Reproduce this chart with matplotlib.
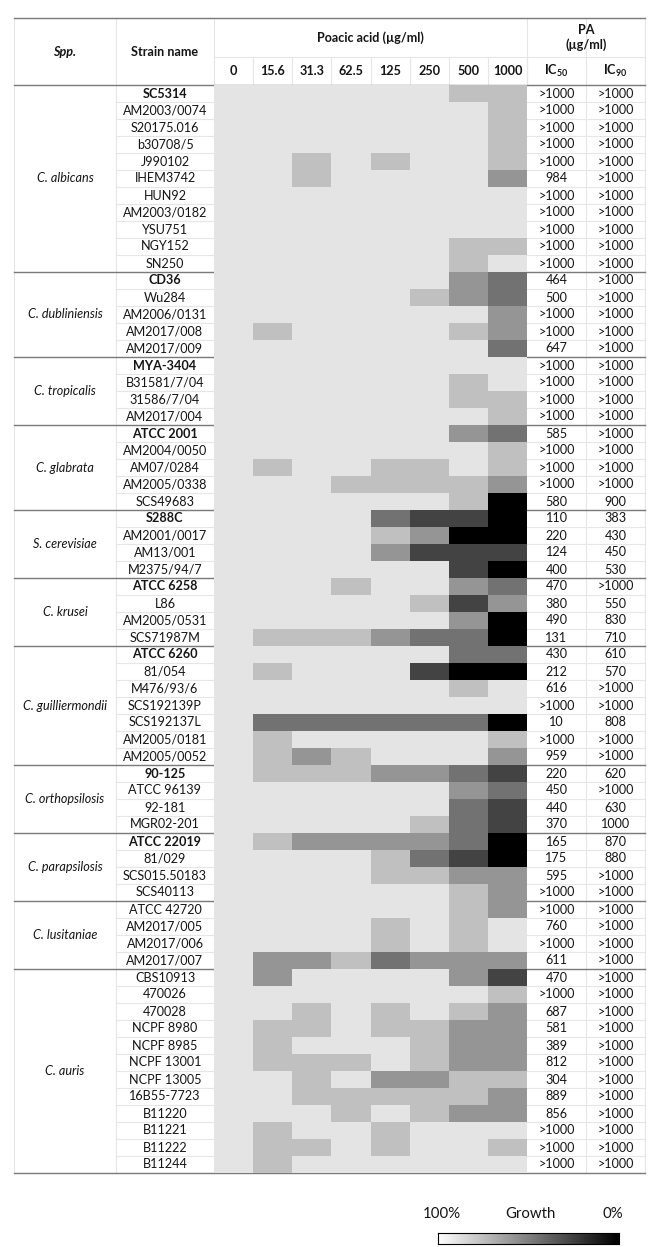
import matplotlib
matplotlib.use("Agg")
import matplotlib.pyplot as plt
from matplotlib.colors import ListedColormap, LinearSegmentedColormap
import numpy as np

plt.rcParams['font.family'] = ['Lato', 'DejaVu Sans']
plt.rcParams['mathtext.fontset'] = 'custom'
plt.rcParams['mathtext.rm'] = 'Lato'
plt.rcParams['mathtext.bf'] = 'Lato:bold'
plt.rcParams['mathtext.it'] = 'Lato:italic'

# ---------------- data ----------------
concentrations = ["0", "15.6", "31.3", "62.5", "125", "250", "500", "1000"]

species = ["C. albicans", "C. dubliniensis", "C. tropicalis", "C. glabrata",
           "S. cerevisiae", "C. krusei", "C. guilliermondii", "C. orthopsilosis",
           "C. parapsilosis", "C. lusitaniae", "C. auris"]
group_sizes = [11, 5, 4, 5, 4, 4, 7, 4, 4, 4, 12]

strains = ["SC5314", "AM2003/0074", "S20175.016", "b30708/5", "J990102", "IHEM3742",
           "HUN92", "AM2003/0182", "YSU751", "NGY152", "SN250",
           "CD36", "Wu284", "AM2006/0131", "AM2017/008", "AM2017/009",
           "MYA-3404", "B31581/7/04", "31586/7/04", "AM2017/004",
           "ATCC 2001", "AM2004/0050", "AM07/0284", "AM2005/0338", "SCS49683",
           "S288C", "AM2001/0017", "AM13/001", "M2375/94/7",
           "ATCC 6258", "L86", "AM2005/0531", "SCS71987M",
           "ATCC 6260", "81/054", "M476/93/6", "SCS192139P", "SCS192137L",
           "AM2005/0181", "AM2005/0052",
           "90-125", "ATCC 96139", "92-181", "MGR02-201",
           "ATCC 22019", "81/029", "SCS015.50183", "SCS40113",
           "ATCC 42720", "AM2017/005", "AM2017/006", "AM2017/007",
           "CBS10913", "470026", "470028", "NCPF 8980", "NCPF 8985", "NCPF 13001",
           "NCPF 13005", "16B55-7723", "B11220", "B11221", "B11222", "B11244"]

bold_strains = ["SC5314", "CD36", "MYA-3404", "ATCC 2001", "S288C", "ATCC 6258",
                "ATCC 6260", "90-125", "ATCC 22019"]

# growth inhibition level per cell (0 = full growth ... 5 = no growth)
levels = [
    [0, 0, 0, 0, 0, 0, 1, 1],
    [0, 0, 0, 0, 0, 0, 0, 1],
    [0, 0, 0, 0, 0, 0, 0, 1],
    [0, 0, 0, 0, 0, 0, 0, 1],
    [0, 0, 1, 0, 1, 0, 0, 1],
    [0, 0, 1, 0, 0, 0, 0, 2],
    [0, 0, 0, 0, 0, 0, 0, 0],
    [0, 0, 0, 0, 0, 0, 0, 0],
    [0, 0, 0, 0, 0, 0, 0, 0],
    [0, 0, 0, 0, 0, 0, 1, 1],
    [0, 0, 0, 0, 0, 0, 1, 0],
    [0, 0, 0, 0, 0, 0, 2, 3],
    [0, 0, 0, 0, 0, 1, 2, 3],
    [0, 0, 0, 0, 0, 0, 0, 2],
    [0, 1, 0, 0, 0, 0, 1, 2],
    [0, 0, 0, 0, 0, 0, 0, 3],
    [0, 0, 0, 0, 0, 0, 0, 0],
    [0, 0, 0, 0, 0, 0, 1, 0],
    [0, 0, 0, 0, 0, 0, 1, 1],
    [0, 0, 0, 0, 0, 0, 0, 1],
    [0, 0, 0, 0, 0, 0, 2, 3],
    [0, 0, 0, 0, 0, 0, 0, 1],
    [0, 1, 0, 0, 1, 1, 0, 1],
    [0, 0, 0, 1, 1, 1, 1, 2],
    [0, 0, 0, 0, 0, 0, 1, 5],
    [0, 0, 0, 0, 3, 4, 4, 5],
    [0, 0, 0, 0, 1, 2, 5, 5],
    [0, 0, 0, 0, 2, 4, 4, 4],
    [0, 0, 0, 0, 0, 0, 4, 5],
    [0, 0, 0, 1, 0, 0, 2, 3],
    [0, 0, 0, 0, 0, 1, 4, 2],
    [0, 0, 0, 0, 0, 0, 2, 5],
    [0, 1, 1, 1, 2, 3, 3, 5],
    [0, 0, 0, 0, 0, 0, 3, 3],
    [0, 1, 0, 0, 0, 4, 5, 5],
    [0, 0, 0, 0, 0, 0, 1, 0],
    [0, 0, 0, 0, 0, 0, 0, 0],
    [0, 3, 3, 3, 3, 3, 3, 5],
    [0, 1, 0, 0, 0, 0, 0, 1],
    [0, 1, 2, 1, 0, 0, 0, 2],
    [0, 1, 1, 1, 2, 2, 3, 4],
    [0, 0, 0, 0, 0, 0, 2, 3],
    [0, 0, 0, 0, 0, 0, 3, 4],
    [0, 0, 0, 0, 0, 1, 3, 4],
    [0, 1, 2, 2, 2, 2, 3, 5],
    [0, 0, 0, 0, 1, 3, 4, 5],
    [0, 0, 0, 0, 1, 1, 2, 2],
    [0, 0, 0, 0, 0, 0, 1, 2],
    [0, 0, 0, 0, 0, 0, 1, 2],
    [0, 0, 0, 0, 1, 0, 1, 0],
    [0, 0, 0, 0, 1, 0, 1, 0],
    [0, 2, 2, 1, 3, 2, 2, 2],
    [0, 2, 0, 0, 0, 0, 2, 4],
    [0, 0, 0, 0, 0, 0, 0, 1],
    [0, 0, 1, 0, 1, 0, 1, 2],
    [0, 1, 1, 0, 1, 1, 2, 2],
    [0, 1, 0, 0, 0, 1, 2, 2],
    [0, 1, 1, 1, 0, 1, 2, 2],
    [0, 0, 1, 0, 2, 2, 1, 1],
    [0, 0, 1, 1, 1, 1, 1, 2],
    [0, 0, 0, 1, 0, 1, 2, 2],
    [0, 1, 0, 0, 1, 0, 0, 0],
    [0, 1, 1, 0, 1, 0, 0, 1],
    [0, 1, 0, 0, 0, 0, 0, 0],
]

ic50 = [">1000", ">1000", ">1000", ">1000", ">1000", "984", ">1000", ">1000", ">1000", ">1000", ">1000",
        "464", "500", ">1000", ">1000", "647",
        ">1000", ">1000", ">1000", ">1000",
        "585", ">1000", ">1000", ">1000", "580",
        "110", "220", "124", "400",
        "470", "380", "490", "131",
        "430", "212", "616", ">1000", "10", ">1000", "959",
        "220", "450", "440", "370",
        "165", "175", "595", ">1000",
        ">1000", "760", ">1000", "611",
        "470", ">1000", "687", "581", "389", "812", "304", "889", "856", ">1000", ">1000", ">1000"]

ic90 = [">1000"] * 11 + \
       [">1000"] * 5 + \
       [">1000"] * 4 + \
       [">1000", ">1000", ">1000", ">1000", "900"] + \
       ["383", "430", "450", "530"] + \
       [">1000", "550", "830", "710"] + \
       ["610", "570", ">1000", ">1000", "808", ">1000", ">1000"] + \
       ["620", ">1000", "630", "1000"] + \
       ["870", "880", ">1000", ">1000"] + \
       [">1000"] * 4 + \
       [">1000"] * 12

level_colors = ["#e4e4e4", "#c0c0c0", "#959595", "#727272", "#434343", "#000000"]

# ---------------- layout (pixels) ----------------
W, H = 668, 1247
x_left, x_spp, x_heat0, x_heat1, x_ic, x_right = 14, 116, 214, 527, 586, 645
y_top, y_sub, y_head, y_bot = 18, 57, 85, 1173
n_rows = len(strains)
rh = (y_bot - y_head) / n_rows
ncol = len(concentrations)
cw = (x_heat1 - x_heat0) / ncol

fig = plt.figure(figsize=(W / 100, H / 100), dpi=100)
bg = fig.add_axes([0, 0, 1, 1])
bg.set_xlim(0, W)
bg.set_ylim(H, 0)
bg.axis("off")

# heatmap axes
hax = fig.add_axes([x_heat0 / W, 1 - y_bot / H, (x_heat1 - x_heat0) / W, (y_bot - y_head) / H])
cmap = ListedColormap(level_colors)
hax.pcolormesh(np.array(levels), cmap=cmap, vmin=-0.5, vmax=5.5)
hax.set_xlim(0, ncol)
hax.set_ylim(n_rows, 0)
hax.axis("off")

light = "#e6e6e6"
dark = "#7a7a7a"
fs = 9.1
tc = "#151515"

# light row lines in strain & IC columns
for i in range(1, n_rows):
    y = y_head + i * rh
    bg.plot([x_spp, x_heat0], [y, y], color=light, lw=0.8)
    bg.plot([x_heat1, x_right], [y, y], color=light, lw=0.8)

# light vertical lines
for x in [x_left, x_spp, x_heat0, x_ic, x_right]:
    bg.plot([x, x], [y_top, y_bot], color=light, lw=0.8, zorder=0)
for j in range(1, ncol + 1):
    x = x_heat0 + j * cw
    bg.plot([x, x], [y_sub, y_head], color=light, lw=0.8)
bg.plot([x_heat1, x_heat1], [y_top, y_head], color=light, lw=0.8)
bg.plot([x_heat0, x_right], [y_sub, y_sub], color=light, lw=0.8)

# header text
bg.text((x_left + x_spp) / 2, (y_top + y_head) / 2, "Spp.", ha="center", va="center",
        fontsize=fs, fontweight="bold", fontstyle="italic", color=tc)
bg.text((x_spp + x_heat0) / 2, (y_top + y_head) / 2, "Strain name", ha="center", va="center",
        fontsize=fs, fontweight="bold", color=tc)
bg.text((x_heat0 + x_heat1) / 2, (y_top + y_sub) / 2, "Poacic acid (µg/ml)", ha="center",
        va="center", fontsize=fs, fontweight="bold", color=tc)
bg.text((x_heat1 + x_right) / 2, 30, "PA", ha="center", va="center", fontsize=fs,
        fontweight="bold", color=tc)
bg.text((x_heat1 + x_right) / 2, 45, "(µg/ml)", ha="center", va="center", fontsize=fs,
        fontweight="bold", color=tc)
for j, c in enumerate(concentrations):
    bg.text(x_heat0 + (j + 0.5) * cw, (y_sub + y_head) / 2, c, ha="center", va="center",
            fontsize=fs, fontweight="bold", color=tc)
bg.text((x_heat1 + x_ic) / 2, (y_sub + y_head) / 2, r"$\mathbf{IC}_{\mathbf{50}}$", ha="center",
        va="center", fontsize=fs, color=tc)
bg.text((x_ic + x_right) / 2, (y_sub + y_head) / 2, r"$\mathbf{IC}_{\mathbf{90}}$", ha="center",
        va="center", fontsize=fs, color=tc)

# rows
for i, s in enumerate(strains):
    yc = y_head + (i + 0.5) * rh
    bg.text((x_spp + x_heat0) / 2, yc, s, ha="center", va="center", fontsize=fs,
            fontweight="bold" if s in bold_strains else "normal", color=tc)
    bg.text((x_heat1 + x_ic) / 2, yc, ic50[i], ha="center", va="center", fontsize=fs, color=tc)
    bg.text((x_ic + x_right) / 2, yc, ic90[i], ha="center", va="center", fontsize=fs, color=tc)

# groups
start = 0
for sp, n in zip(species, group_sizes):
    y0 = y_head + start * rh
    y1 = y_head + (start + n) * rh
    bg.text((x_left + x_spp) / 2, (y0 + y1) / 2, sp, ha="center", va="center", fontsize=fs,
            fontstyle="italic", color=tc)
    start += n
    bg.plot([x_left, x_right], [y1, y1], color=dark, lw=1.0, zorder=5)

bg.plot([x_left, x_right], [y_top, y_top], color=dark, lw=1.0, zorder=5)
bg.plot([x_left, x_right], [y_head, y_head], color=dark, lw=1.0, zorder=5)

# legend colour bar
lx0, lx1, ly0, ly1 = 438, 619, 1233, 1244
lax = fig.add_axes([lx0 / W, 1 - ly1 / H, (lx1 - lx0) / W, (ly1 - ly0) / H])
grad = np.linspace(0, 1, 256)[None, :]
lax.imshow(grad, aspect="auto", cmap=LinearSegmentedColormap.from_list("g", ["#ffffff", "#000000"]))
lax.set_xticks([])
lax.set_yticks([])
for sp_ in lax.spines.values():
    sp_.set_linewidth(0.8)
bg.text(442, 1214, "100%", ha="center", va="center", fontsize=10.8, color=tc)
bg.text(530, 1214, "Growth", ha="center", va="center", fontsize=10.8, color=tc)
bg.text(623, 1214, "0%", ha="right", va="center", fontsize=10.8, color=tc)

fig.savefig("out.png", dpi=100)
